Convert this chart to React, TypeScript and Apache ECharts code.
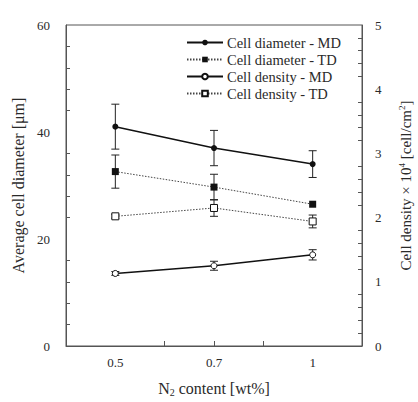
import React, { useEffect, useRef } from "react";
import * as echarts from "echarts";

const nContent = ["0.5", "0.7", "1"];
const diameterMD = [41.0, 37.0, 34.0];
const diameterMDErr = [4.2, 3.3, 2.5];
const diameterTD = [32.6, 29.7, 26.5];
const diameterTDErr = [3.1, 2.4, 0];
const densityMD = [1.13, 1.25, 1.42];
const densityMDErr = [0.03, 0.07, 0.08];
const densityTD = [2.02, 2.15, 1.94];
const densityTDErr = [0.03, 0.13, 0.1];
const leftTicks = [0, 20, 40, 60];
const rightTicks = [0, 1, 2, 3, 4, 5];

const FONT = "Liberation Serif";
const TXT = "#2a2a2a";
const AX = "#555";

export default function App() {
  const ref = useRef<HTMLDivElement>(null);
  useEffect(() => {
    const chart = echarts.init(ref.current!, null, { renderer: "svg" });
    const cats: string[] = ["s0"];
    nContent.forEach((c, i) => {
      cats.push(c);
      cats.push("s" + (i + 1));
    });
    const pos = (i: number) => 2 * i + 1;
    const toData = (vals: number[]) => vals.map((v, i) => [pos(i), v]);
    const errData = (vals: number[], errs: number[]) =>
      vals.map((v, i) => [pos(i), v - errs[i], v + errs[i]]).filter((d, i) => errs[i] > 0);

    const errSeries = (vals: number[], errs: number[], yIdx: number) => ({
      type: "custom",
      yAxisIndex: yIdx,
      silent: true,
      z: 1,
      data: errData(vals, errs),
      renderItem: (params: any, api: any) => {
        const x = api.value(0);
        const lo = api.coord([x, api.value(1)]);
        const hi = api.coord([x, api.value(2)]);
        const w = 4;
        const st = { stroke: "#222", lineWidth: 1 };
        return {
          type: "group",
          children: [
            { type: "line", shape: { x1: lo[0], y1: lo[1], x2: hi[0], y2: hi[1] }, style: st },
            { type: "line", shape: { x1: lo[0] - w, y1: lo[1], x2: lo[0] + w, y2: lo[1] }, style: st },
            { type: "line", shape: { x1: hi[0] - w, y1: hi[1], x2: hi[0] + w, y2: hi[1] }, style: st },
          ],
        };
      },
    });

    const solid = { color: "#111", width: 1.5, type: "solid" };
    const dotted = { color: "#444", width: 1, type: [1.5, 1.5] };

    chart.setOption({
      animation: false,
      textStyle: { fontFamily: FONT },
      grid: {
        left: 66,
        right: 56,
        top: 25,
        bottom: 56,
        containLabel: false,
        outerBoundsMode: "none",
        show: true,
        borderColor: AX,
        borderWidth: 1,
        backgroundColor: "transparent",
      },
      legend: {
        orient: "vertical",
        left: 186,
        top: 35,
        padding: 0,
        itemWidth: 36,
        itemHeight: 7,
        itemGap: 2,
        textStyle: { fontFamily: FONT, fontSize: 14.5, lineHeight: 14, color: TXT, padding: [0, 0, 0, -1] },
        data: [
          "Cell diameter - MD",
          "Cell diameter - TD",
          "Cell density - MD",
          "Cell density - TD",
        ],
      },
      xAxis: {
        type: "category",
        data: cats,
        boundaryGap: false,
        name: "{n|N}{s|2}{n| content [wt%]}",
        nameLocation: "middle",
        nameGap: 33,
        nameTextStyle: {
          rich: {
            n: { fontFamily: FONT, fontSize: 16, color: TXT },
            s: { fontFamily: FONT, fontSize: 10, color: TXT, padding: [8, 0, 0, 0] },
          },
        },
        axisLine: { lineStyle: { color: AX } },
        axisTick: {
          inside: true,
          length: 5,
          interval: (i: number) => i >= 2 && i <= cats.length - 3,
          lineStyle: { color: AX },
        },
        axisLabel: {
          interval: (i: number) => i % 2 === 1,
          formatter: (v: string) => (v.startsWith("s") ? "" : v),
          margin: 10,
          fontFamily: FONT,
          fontSize: 13,
          color: TXT,
        },
        splitLine: { show: false },
      },
      yAxis: [
        {
          type: "value",
          min: leftTicks[0],
          max: leftTicks[leftTicks.length - 1],
          interval: leftTicks[1] - leftTicks[0],
          name: "Average cell diameter [μm]",
          nameLocation: "middle",
          nameGap: 23,
          nameTextStyle: { fontFamily: FONT, fontSize: 16, color: TXT },
          axisLine: { show: true, lineStyle: { color: AX } },
          axisTick: { inside: true, length: 4, lineStyle: { color: AX } },
          minorTick: { show: true, splitNumber: 5, length: 4, lineStyle: { color: AX } },
          axisLabel: { margin: 16, fontFamily: FONT, fontSize: 13, color: TXT },
          splitLine: { show: false },
        },
        {
          type: "value",
          min: rightTicks[0],
          max: rightTicks[rightTicks.length - 1],
          interval: rightTicks[1] - rightTicks[0],
          position: "right",
          name: "{n|Cell density × 10}{p|4}{n| [cell/cm}{p|2}{n|]}",
          nameLocation: "middle",
          nameGap: 35,
          nameRotate: 90,
          nameTextStyle: {
            rich: {
              n: { fontFamily: FONT, fontSize: 15, color: TXT },
              p: { fontFamily: FONT, fontSize: 9, color: TXT, padding: [0, 0, 8, 0] },
            },
          },
          axisLine: { show: true, lineStyle: { color: AX } },
          axisTick: { inside: true, length: 4, lineStyle: { color: AX } },
          minorTick: { show: true, splitNumber: 5, length: 4, lineStyle: { color: AX } },
          axisLabel: { margin: 13, fontFamily: FONT, fontSize: 13, color: TXT },
          splitLine: { show: false },
        },
      ],
      series: [
        errSeries(diameterMD, diameterMDErr, 0),
        errSeries(diameterTD, diameterTDErr, 0),
        errSeries(densityMD, densityMDErr, 1),
        errSeries(densityTD, densityTDErr, 1),
        {
          name: "Cell diameter - MD",
          type: "line",
          yAxisIndex: 0,
          data: toData(diameterMD),
          symbol: "circle",
          symbolSize: 6,
          itemStyle: { color: "#111" },
          lineStyle: solid,
          z: 3,
        },
        {
          name: "Cell diameter - TD",
          type: "line",
          yAxisIndex: 0,
          data: toData(diameterTD),
          symbol: "rect",
          symbolSize: 7,
          itemStyle: { color: "#111" },
          lineStyle: dotted,
          z: 3,
        },
        {
          name: "Cell density - MD",
          type: "line",
          yAxisIndex: 1,
          data: toData(densityMD),
          symbol: "circle",
          symbolSize: 6,
          itemStyle: { color: "#fff", borderColor: "#111", borderWidth: 1 },
          lineStyle: solid,
          z: 3,
        },
        {
          name: "Cell density - TD",
          type: "line",
          yAxisIndex: 1,
          data: toData(densityTD),
          symbol: "rect",
          symbolSize: 7,
          itemStyle: { color: "#fff", borderColor: "#111", borderWidth: 1 },
          lineStyle: dotted,
          z: 3,
        },
      ],
    });
    return () => chart.dispose();
  }, []);
  return <div ref={ref} style={{ width: 418, height: 402, position: "absolute", left: 0, top: 0 }} />;
}
